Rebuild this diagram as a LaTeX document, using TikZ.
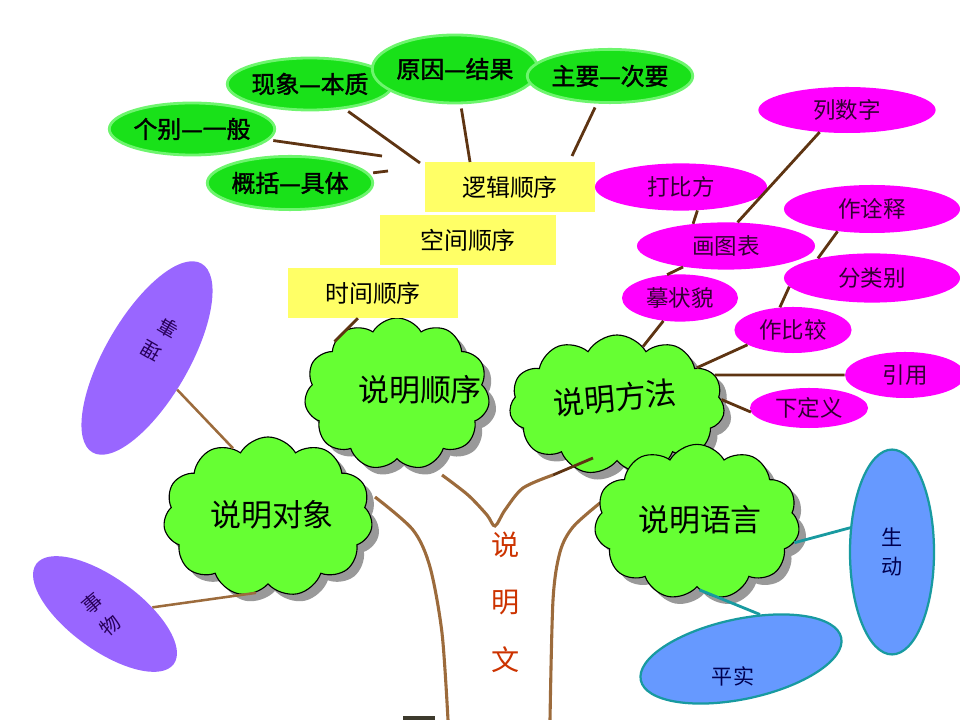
\documentclass[tikz,border=0pt]{standalone}
\usepackage{fontspec}
\setmainfont{Noto Sans CJK SC}
\newfontfamily\heavycjk{Noto Sans CJK SC}[FakeBold=1.6]
\usetikzlibrary{shapes.geometric,shapes.symbols,shadows}

\definecolor{leafgreen}{RGB}{102,255,51}
\definecolor{ovalgreen}{RGB}{25,225,25}
\definecolor{ovalrim}{RGB}{110,245,110}
\definecolor{boxyellow}{RGB}{255,255,102}
\definecolor{methodpink}{RGB}{255,0,255}
\definecolor{methodink}{RGB}{51,0,51}
\definecolor{objpurple}{RGB}{153,102,255}
\definecolor{objink}{RGB}{40,0,90}
\definecolor{langblue}{RGB}{102,153,255}
\definecolor{langteal}{RGB}{24,154,160}
\definecolor{langink}{RGB}{0,0,80}
\definecolor{twigbrown}{RGB}{94,52,18}
\definecolor{trunkbrown}{RGB}{156,107,60}
\definecolor{titlered}{RGB}{204,51,0}

\tikzset{
  leaf/.style={cloud, cloud puffs=11, cloud puff arc=120, aspect=1.3, fill=leafgreen,
    draw=black, line width=0.8pt, inner sep=0pt,
    drop shadow={shadow xshift=5pt, shadow yshift=-5pt, fill=black!40, opacity=1}},
  leaftext/.style={font=\fontsize{22}{26}\selectfont},
  logicov/.style={ellipse, fill=ovalgreen, draw=ovalrim, line width=2pt, inner sep=0pt,
    font=\heavycjk\fontsize{17}{20}\selectfont},
  orderbox/.style={rectangle, fill=boxyellow, minimum width=4.25cm, minimum height=1.25cm,
    inner sep=0pt, font=\fontsize{17}{20}\selectfont},
  methodov/.style={ellipse, fill=methodpink, inner sep=0pt, text=methodink,
    font=\fontsize{16}{19}\selectfont},
  objov/.style={ellipse, fill=objpurple, inner sep=0pt},
  objtext/.style={text=objink, font=\fontsize{14}{16}\selectfont},
  langov/.style={ellipse, fill=langblue, draw=langteal, line width=1.6pt, inner sep=0pt,
    text=langink, font=\fontsize{15}{20}\selectfont, align=center},
  twig/.style={draw=twigbrown, line width=2pt},
  trunk/.style={draw=trunkbrown, line width=2.2pt},
  tealline/.style={draw=langteal, line width=2pt},
  titletext/.style={text=titlered, align=center, font=\fontsize{20}{41}\selectfont}
}

\begin{document}
\begin{tikzpicture}[x=0.025cm, y=-0.025cm]
    \useasboundingbox (0,0) rectangle (960,720);

    % draw the lower clouds
    \node[leaf, minimum width=5.23cm, minimum height=4cm] (duixiang) at (268,517) {};
    \node[leaftext] (duixiangtext) at (272,515) {说明对象};
    \node[leaf, minimum width=4.63cm, minimum height=3.8cm] (shunxu) at (397,394) {};
    \node[leaftext] (shunxutext) at (420,390) {说明顺序};
    \node[leaf, minimum width=5.38cm, minimum height=3.5cm] (fangfa) at (617,405) {};
    \node[leaftext, rotate=5] (fangfatext) at (615,398) {说明方法};

    % draw trunk
    \draw[trunk] plot[smooth] coordinates {(375,497) (413,530) (430,567) (442,633) (448,720)};
    \draw[trunk] plot[smooth] coordinates {(442,475) (468,495) (487,515) (495,526) (505,510) (523,488) (553,475)};
    \draw[trunk] plot[smooth] coordinates {(600,503) (573,527) (560,552) (553,600) (550,720)};
    \draw[twig] (553,475) -- (593,458);
    \fill[black!75!olive] (403,716) rectangle (435,720);

    \node[leaf, minimum width=5.13cm, minimum height=3.88cm] (yuyan) at (697,522) {};
    \node[leaftext] (yuyantext) at (700,520) {说明语言};

    % draw title
    \node[titletext] (title) at (506,602) {说\\明\\文};

    % draw order boxes
    \node[orderbox] (luoji) at (510,187) {逻辑顺序};
    \node[orderbox, minimum width=4.4cm] (kongjian) at (468,240) {空间顺序};
    \node[orderbox] (shijian) at (373,293) {时间顺序};

    % draw logic ovals
    \foreach \nm/\px/\py/\w/\h/\txt in {
        gebie/192/129/3.85/1.3/个别—一般,
        xianxiang/310/84/3.5/1.3/现象—本质,
        yuanyin/455/69/3.68/1.7/原因—结果,
        zhuyao/610/76/3.83/1.33/主要—次要,
        gaikuo/290/183/3.88/1.33/概括—具体}
        \node[logicov, minimum width=\w cm, minimum height=\h cm] (\nm) at (\px,\py) {\txt};

    % draw method ovals
    \foreach \nm/\px/\py/\w/\h/\txt in {
        lieshuzi/847/110/4.43/1.15/列数字,
        dabifang/681/187/4.3/1.18/打比方,
        zuoquanshi/872/209/4.4/1.2/作诠释,
        huatubiao/726/246/4.45/1.18/画图表,
        fenleibie/872/278/4.4/1.23/分类别,
        mozhuangmao/680/298/2.9/1.18/摹状貌,
        zuobijiao/793/330/2.93/1.15/作比较,
        yinyong/905/375/3/1.15/引用,
        xiadingyi/809/408/2.95/1/下定义}
        \node[methodov, minimum width=\w cm, minimum height=\h cm] (\nm) at (\px,\py) {\txt};

    % draw object ovals
    \node[objov, rotate=60, minimum width=5.45cm, minimum height=2.1cm] (shili) at (147,358) {};
    \node[objtext, rotate=150] (shilia) at (168,328) {事};
    \node[objtext, rotate=150] (shilib) at (151,351) {理};
    \node[objov, rotate=-36, minimum width=4.25cm, minimum height=1.8cm] (shiwu) at (105,614) {};
    \node[objtext, rotate=40] (shiwua) at (92,603) {事};
    \node[objtext, rotate=40] (shiwub) at (110,625) {物};

    % draw language ovals
    \node[langov, minimum width=2.1cm, minimum height=5.12cm] (shengdong) at (892,552) {生\\动};
    \node[langov, rotate=12, minimum width=5.12cm, minimum height=2cm] (pingshi) at (741,659) {};
    \node[text=langink, font=\fontsize{15}{18}\selectfont] (pingshitext) at (733,676) {平实};

    % draw logic twigs
    \coordinate (hubA) at (382,156);
    \coordinate (hubB) at (420,163);
    \coordinate (hubC) at (470,162);
    \coordinate (hubD) at (572,156);
    \coordinate (hubE) at (388,171);
    \foreach \a/\b in {gebie/hubA, xianxiang/hubB, yuanyin/hubC, zhuyao/hubD, gaikuo/hubE}
        \draw[twig, shorten <=3pt] (\a) -- (\b);
    \draw[twig] (shijian.239) -- (shunxu.140);

    % draw method twigs
    \foreach \a/\b in {lieshuzi.219/huatubiao.64, dabifang.305/huatubiao.146,
        zuoquanshi.213/fenleibie.160, huatubiao.206/mozhuangmao.119,
        fenleibie.186/zuobijiao.120, mozhuangmao.234/fangfa.66,
        zuobijiao.198/fangfa.25, yinyong.180/fangfa.17, xiadingyi.184/fangfa.3}
        \draw[twig] (\a) -- (\b);

    % draw object twigs
    \draw[trunk, line width=1.8pt] (shili) -- (duixiang.117);
    \draw[trunk, line width=1.8pt] (shiwu) -- (duixiang.261);

    % draw language twigs
    \draw[tealline] (shengdong.150) -- (yuyan.348);
    \draw[tealline] (pingshi.55) -- (yuyan.272);

\end{tikzpicture}
\end{document}
